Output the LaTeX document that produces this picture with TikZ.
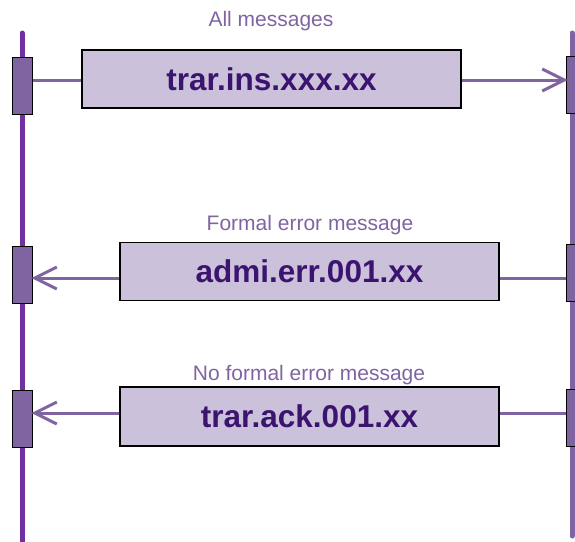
\documentclass[tikz,border=0pt]{standalone}
\usepackage{fontspec}
\setmainfont{Liberation Sans}
\usetikzlibrary{arrows.meta}
\definecolor{lifeA}{HTML}{7030A0}
\definecolor{lifeB}{HTML}{8064A2}
\definecolor{actfill}{HTML}{8064A2}
\definecolor{boxfill}{HTML}{CCC1DA}
\definecolor{boxtext}{HTML}{3B1470}
\definecolor{lbltext}{HTML}{8064A2}
\tikzset{
  x=1pt, y=1pt,
  lifeline/.style={line width=5pt, line cap=round},
  actbox/.style={draw=black, line width=1pt, fill=actfill, minimum width=20pt, minimum height=57pt, inner sep=0pt, anchor=north west},
  msgbox/.style={draw=black, line width=1.6pt, fill=boxfill, minimum width=379pt, minimum height=58pt, inner sep=0pt, text=boxtext, font=\fontsize{31.5}{36}\selectfont\bfseries},
  msglabel/.style={text=lbltext, font=\fontsize{21}{24}\selectfont, inner sep=0pt},
  msg/.style={draw=lifeB, line width=3pt},
  msgarrow/.style={msg, -{Straight Barb[length=22pt, width=22pt, line width=3pt]}, shorten >=-1.5pt}
}
\begin{document}
\begin{tikzpicture}
\useasboundingbox (0,0) rectangle (575,-541);
% lifelines
\coordinate (lt) at (22,-33);
\coordinate (lb) at (22,-545);
\coordinate (rt) at (572,-33);
\coordinate (rb) at (572,-536);
\draw[lifeline, draw=lifeA] (lt) -- (lb);
\draw[lifeline, draw=lifeB] (rt) -- (rb);
% activation boxes
\node[actbox] (la1) at (12,-57) {};
\node[actbox] (la2) at (12,-245.5) {};
\node[actbox] (la3) at (12,-390) {};
\node[actbox] (ra1) at (566,-55.5) {};
\node[actbox] (ra2) at (566,-244) {};
\node[actbox] (ra3) at (566,-388.5) {};
% message boxes
\node[msgbox] (m1) at (271.5,-79) {trar.ins.xxx.xx};
\node[msgbox] (m2) at (309.5,-271.3) {admi.err.001.xx};
\node[msgbox, minimum height=59pt] (m3) at (309.5,-416.5) {trar.ack.001.xx};
% labels
\node[msglabel] (l1) at (271,-21.5) {All messages};
\node[msglabel] (l2) at (310,-225) {Formal error message};
\node[msglabel] (l3) at (309,-375) {No formal error message};
% connectors
\draw[msg] (la1.east |- 0,-80) -- (m1.west |- 0,-80);
\draw[msgarrow] (m1.east |- 0,-80) -- (ra1.west |- 0,-80);
\draw[msg] (ra2.west |- 0,-278) -- (m2.east |- 0,-278);
\draw[msgarrow] (m2.west |- 0,-278) -- (la2.east |- 0,-278);
\draw[msg] (ra3.west |- 0,-413) -- (m3.east |- 0,-413);
\draw[msgarrow] (m3.west |- 0,-413) -- (la3.east |- 0,-413);
\end{tikzpicture}
\end{document}
